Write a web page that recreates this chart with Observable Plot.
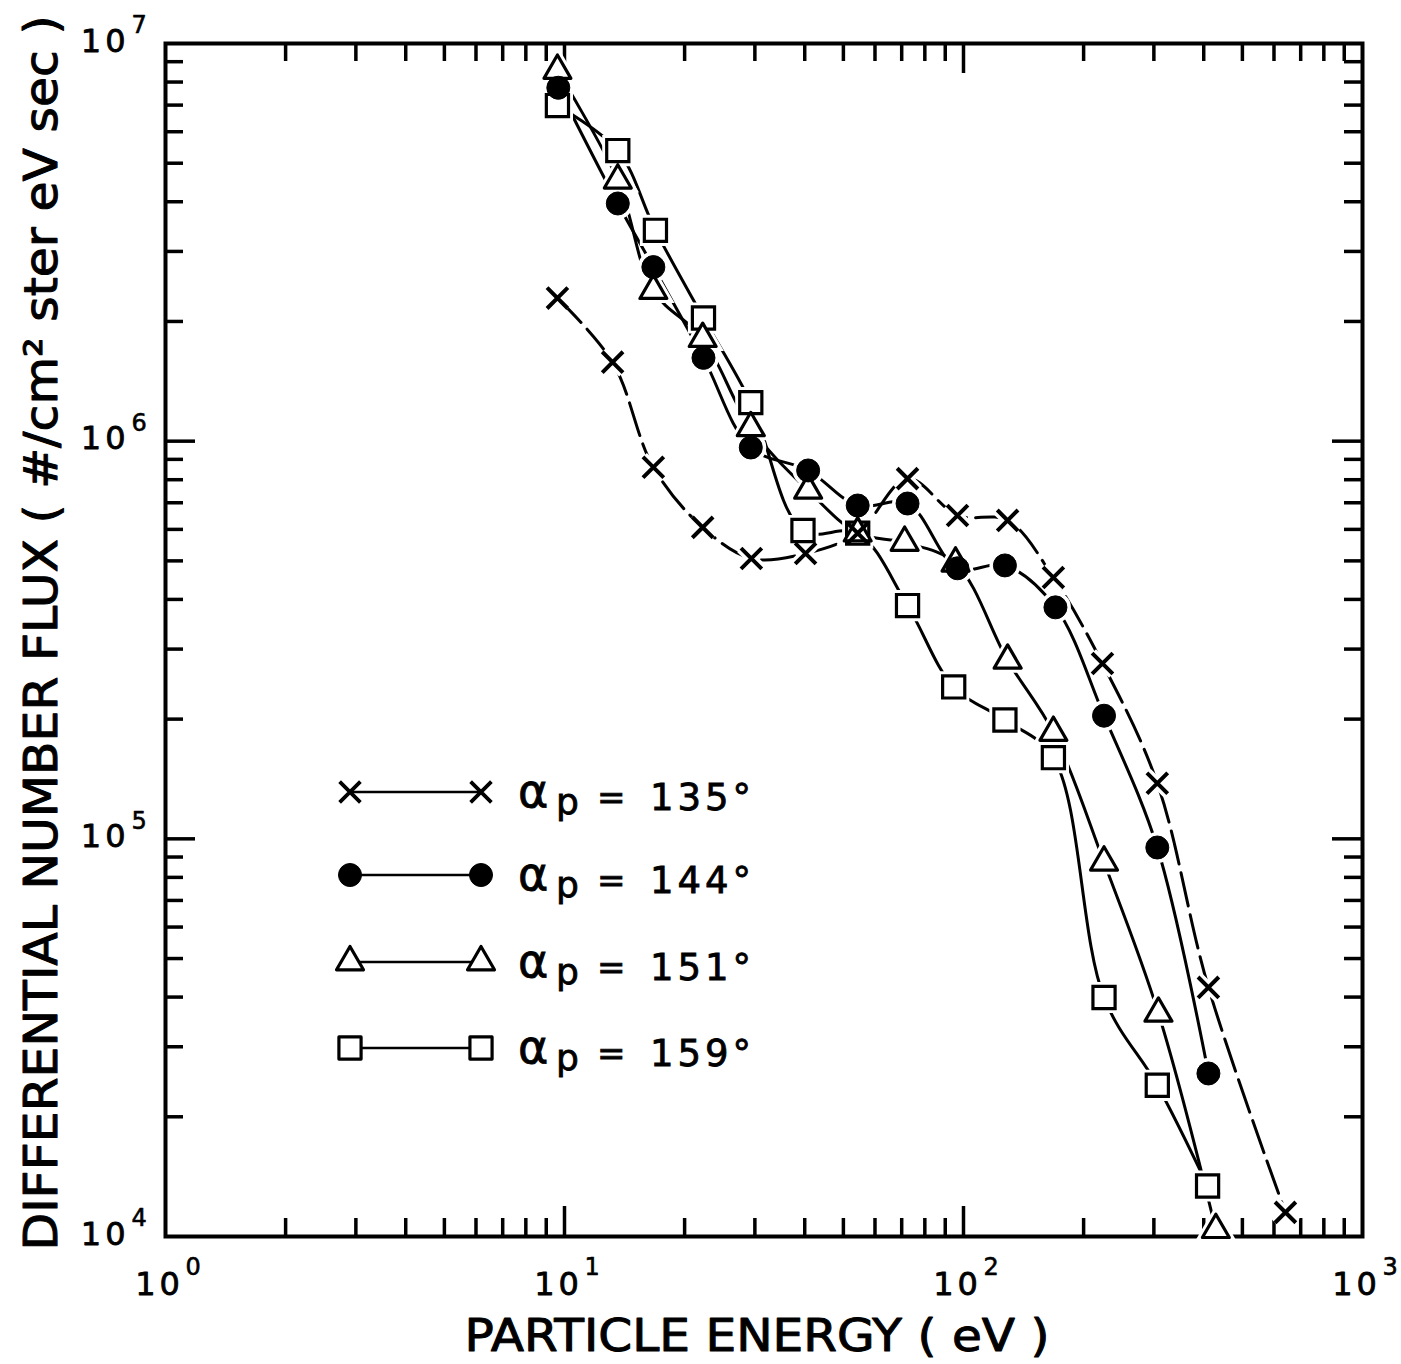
<!DOCTYPE html>
<html>
<head>
<meta charset="utf-8">
<script src="https://cdn.jsdelivr.net/npm/d3@7"></script>
<script src="https://cdn.jsdelivr.net/npm/@observablehq/plot@0.6"></script>
<style>
  html, body { margin: 0; padding: 0; background: #fff; }
  #chart { width: 1401px; height: 1364px; }
</style>
</head>
<body>
<div id="chart"></div>
<script>
// ---------- data ----------
const seriesLabels = ["135°", "144°", "151°", "159°"];

const e135 = [9.6, 13.2, 16.7, 22.2, 29.4, 40.2, 54.3, 72.4, 96.6, 129, 168, 223, 306, 411, 641];
const f135 = [2.29e6, 1.58e6, 8.6e5, 6.07e5, 5.07e5, 5.22e5, 5.87e5, 8.05e5, 6.5e5, 6.32e5, 4.54e5, 2.76e5, 1.38e5, 4.23e4, 1.15e4];

const e144 = [9.65, 13.6, 16.7, 22.3, 29.3, 40.8, 54.3, 72.4, 96.6, 127, 170, 225, 306, 411];
const f144 = [7.74e6, 3.96e6, 2.74e6, 1.62e6, 9.64e5, 8.44e5, 6.89e5, 6.97e5, 4.79e5, 4.87e5, 3.82e5, 2.04e5, 9.51e4, 2.57e4];

const e151 = [9.6, 13.6, 16.7, 22.2, 29.3, 40.8, 54.3, 71.2, 95.5, 129, 168, 225, 308, 429];
const f151 = [8.55e6, 4.53e6, 2.39e6, 1.81e6, 1.08e6, 7.52e5, 5.87e5, 5.56e5, 4.93e5, 2.81e5, 1.85e5, 8.73e4, 3.64e4, 1.04e4];

const e159 = [9.6, 13.6, 16.9, 22.3, 29.3, 39.6, 54.3, 72.4, 94.5, 127, 168, 225, 306, 409];
const f159 = [6.98e6, 5.38e6, 3.39e6, 2.04e6, 1.25e6, 5.96e5, 5.87e5, 3.86e5, 2.41e5, 1.99e5, 1.60e5, 3.99e4, 2.40e4, 1.34e4];

// tick values and labels
const xMinorTicks = [2,3,4,5,6,7,8,9,20,30,40,50,60,70,80,90,200,300,400,500,600,700,800,900];
const xMajorTicks = [10, 100];
const yMinorTicks = [2e4,3e4,4e4,5e4,6e4,7e4,8e4,9e4,2e5,3e5,4e5,5e5,6e5,7e5,8e5,9e5,2e6,3e6,4e6,5e6,6e6,7e6,8e6,9e6];
const yMajorTicks = [1e5, 1e6];
const xDecades = [1, 10, 100, 1000];
const xExponents = ["0", "1", "2", "3"];
const yDecades = [1e4, 1e5, 1e6, 1e7];
const yExponents = ["4", "5", "6", "7"];

const xTitle = "PARTICLE ENERGY ( eV )";
const yTitle = "DIFFERENTIAL NUMBER FLUX ( #/cm² ster eV sec )";

// ---------- build tables ----------
const toRows = (E, F, s) => E.map((e, i) => ({E: e, F: F[i], s}));
const d135 = toRows(e135, f135, seriesLabels[0]);
const d144 = toRows(e144, f144, seriesLabels[1]);
const d151 = toRows(e151, f151, seriesLabels[2]);
const d159 = toRows(e159, f159, seriesLabels[3]);

// ---------- layout ----------
const W = 1401, H = 1364;
const mL = 165, mR = 39, mT = 43, mB = 128;
const fw = W - mL - mR, fh = H - mT - mB;
const FONT = "DejaVu Sans";
const minorLen = 18, majorLen = 30, tickW = 3.5;

const sym = {
  times: {symbol: "times", r: 9.5},
  circle: {symbol: "circle", r: 11.5},
  triangle: {symbol: "triangle", r: 10},
  square: {symbol: "square", r: 12.5}
};

const labelStyle = {fontFamily: FONT, fill: "black", stroke: "black", lineAnchor: "middle"};

const plot = Plot.plot({
  width: W, height: H,
  marginLeft: mL, marginRight: mR, marginTop: mT, marginBottom: mB,
  x: {type: "log", domain: [1, 1000], axis: null},
  y: {type: "log", domain: [1e4, 1e7], axis: null},
  style: {background: "white", fontFamily: FONT, color: "black"},
  marks: [
    // inward ticks on all four sides
    Plot.tickX(xMinorTicks, {x: d => d, insetTop: fh - minorLen, strokeWidth: tickW}),
    Plot.tickX(xMinorTicks, {x: d => d, insetBottom: fh - minorLen, strokeWidth: tickW}),
    Plot.tickX(xMajorTicks, {x: d => d, insetTop: fh - majorLen, strokeWidth: tickW}),
    Plot.tickX(xMajorTicks, {x: d => d, insetBottom: fh - majorLen, strokeWidth: tickW}),
    Plot.tickY(yMinorTicks, {y: d => d, insetRight: fw - minorLen, strokeWidth: tickW}),
    Plot.tickY(yMinorTicks, {y: d => d, insetLeft: fw - minorLen, strokeWidth: tickW}),
    Plot.tickY(yMajorTicks, {y: d => d, insetRight: fw - majorLen, strokeWidth: tickW}),
    Plot.tickY(yMajorTicks, {y: d => d, insetLeft: fw - majorLen, strokeWidth: tickW}),
    Plot.frame({stroke: "black", strokeWidth: 4}),

    // curves
    Plot.line(d135, {x: "E", y: "F", curve: "catmull-rom", stroke: "black", strokeWidth: 3, strokeDasharray: "34,9"}),
    Plot.line(d144, {x: "E", y: "F", curve: "catmull-rom", stroke: "black", strokeWidth: 3}),
    Plot.line(d151, {x: "E", y: "F", curve: "catmull-rom", stroke: "black", strokeWidth: 3}),
    Plot.line(d159, {x: "E", y: "F", curve: "catmull-rom", stroke: "black", strokeWidth: 3}),

    // white halos so curves stop short of the markers
    Plot.dot(d135, {x: "E", y: "F", ...sym.times, stroke: "white", strokeWidth: 11}),
    Plot.dot(d144, {x: "E", y: "F", ...sym.circle, fill: "white", stroke: "white", strokeWidth: 8}),
    Plot.dot(d151, {x: "E", y: "F", ...sym.triangle, fill: "white", stroke: "white", strokeWidth: 9}),
    Plot.dot(d159, {x: "E", y: "F", ...sym.square, fill: "white", stroke: "white", strokeWidth: 9}),

    // markers
    Plot.dot(d159, {x: "E", y: "F", ...sym.square, fill: "white", stroke: "black", strokeWidth: 3.2}),
    Plot.dot(d151, {x: "E", y: "F", ...sym.triangle, fill: "white", stroke: "black", strokeWidth: 3.2, strokeLinejoin: "round"}),
    Plot.dot(d144, {x: "E", y: "F", ...sym.circle, fill: "black", stroke: "black", strokeWidth: 1}),
    Plot.dot(d135, {x: "E", y: "F", ...sym.times, stroke: "black", strokeWidth: 4}),

    // tick labels (10 with superscript exponent)
    Plot.text(xDecades, {x: d => d, frameAnchor: "bottom", text: () => "10", dx: -6, dy: 48,
      fontSize: 32, strokeWidth: 0.8, ...labelStyle}),
    Plot.text(xDecades, {x: d => d, frameAnchor: "bottom", text: (d, i) => xExponents[i], dx: 20, dy: 31,
      textAnchor: "start", fontSize: 24, strokeWidth: 0.6, ...labelStyle}),
    Plot.text(yDecades, {y: d => d, frameAnchor: "left", text: () => "10", dx: -36, dy: -2, textAnchor: "end",
      fontSize: 32, strokeWidth: 0.8, ...labelStyle}),
    Plot.text(yDecades, {y: d => d, frameAnchor: "left", text: (d, i) => yExponents[i], dx: -34, dy: -18, textAnchor: "start",
      fontSize: 24, strokeWidth: 0.6, ...labelStyle}),

    // axis titles
    Plot.text([xTitle], {frameAnchor: "bottom", text: d => d, dx: -7, dy: 100, textAnchor: "middle",
      fontSize: 45, strokeWidth: 1, ...labelStyle}),
    Plot.text([yTitle], {frameAnchor: "left", text: d => d, rotate: -90, dx: -123, dy: -7, textAnchor: "middle",
      fontSize: 46, strokeWidth: 1, ...labelStyle})
  ]
});

document.getElementById("chart").appendChild(plot);

// fit the axis titles to the reference's lengths, widen tick-label digits
const svg = d3.select(plot);
svg.selectAll("text").filter(function() { return this.textContent === xTitle; })
  .attr("textLength", 585).attr("lengthAdjust", "spacingAndGlyphs");
svg.selectAll("text").filter(function() { return this.textContent === yTitle; })
  .attr("textLength", 1235).attr("lengthAdjust", "spacingAndGlyphs");
svg.selectAll("text").filter(function() { return this.textContent === "10"; })
  .attr("letter-spacing", 4);

// ---------- legend (inside the plot area, as in the original) ----------
const legendItems = [
  {label: seriesLabels[0], kind: "times"},
  {label: seriesLabels[1], kind: "circle"},
  {label: seriesLabels[2], kind: "triangle"},
  {label: seriesLabels[3], kind: "square"}
];
const legRowY = [792, 875, 962, 1048];
const legX0 = 350, legX1 = 481;
const lg = svg.append("g").attr("class", "legend").attr("text-anchor", "start");
const symPath = k => d3.symbol(
  {times: d3.symbolTimes, circle: d3.symbolCircle, triangle: d3.symbolTriangle, square: d3.symbolSquare}[k],
  Math.PI * sym[k].r * sym[k].r)();
legendItems.forEach((it, i) => {
  const g = lg.append("g").attr("transform", `translate(0,${legRowY[i]})`);
  g.append("line").attr("x1", legX0).attr("x2", legX1).attr("stroke", "black").attr("stroke-width", 2.4);
  [legX0, legX1].forEach(cx => {
    const p = g.append("path").attr("d", symPath(it.kind)).attr("transform", `translate(${cx},0)`);
    if (it.kind === "times") p.attr("fill", "none").attr("stroke", "black").attr("stroke-width", 3.8);
    else if (it.kind === "circle") p.attr("fill", "black").attr("stroke", "black");
    else p.attr("fill", "white").attr("stroke", "black").attr("stroke-width", 3.2).attr("stroke-linejoin", "round");
  });
  const t = g.append("text").attr("font-family", FONT).attr("fill", "black")
    .attr("stroke", "black").attr("stroke-width", 0.8).attr("text-anchor", "start");
  t.append("tspan").attr("x", 518).attr("y", 15).attr("font-size", 46).text("α");
  t.append("tspan").attr("x", 556).attr("y", 22).attr("font-size", 36).text("p");
  t.append("tspan").attr("x", 597).attr("y", 17).attr("font-size", 34).text("=");
  t.append("tspan").attr("x", 650).attr("y", 18).attr("font-size", 37).attr("letter-spacing", 4).text(it.label);
});
</script>
</body>
</html>
